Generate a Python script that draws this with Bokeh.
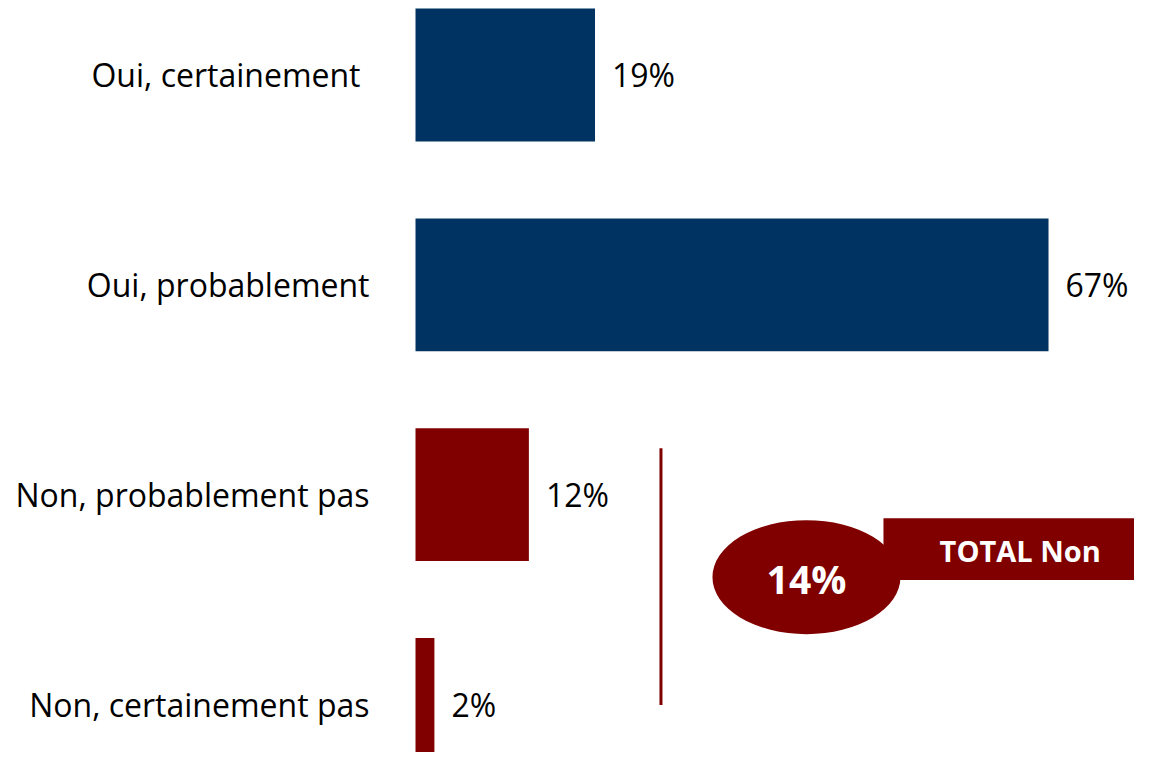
from bokeh.plotting import figure
from bokeh.models import Range1d, ColumnDataSource
from bokeh.core.properties import value
from bokeh.embed import file_html
from bokeh.resources import INLINE

categories = ["Oui, certainement", "Oui, probablement", "Non, probablement pas", "Non, certainement pas"]
values = [19, 67, 12, 2]
colors = ["#013362", "#013362", "#800000", "#800000"]
value_labels = ["19%", "67%", "12%", "2%"]
total_label = "TOTAL Non"
total_value = "14%"

FONT = "Open Sans"
n = len(categories)
ypos = [n - 1 - i for i in range(n)]

src = ColumnDataSource(dict(cat=categories, val=values, col=colors, y=ypos,
                            lab=value_labels, zero=[0] * n,
                            loff=[-55, -46, -46, -46]))

p = figure(width=1134, height=752, output_backend="svg", toolbar_location=None,
           x_range=Range1d(-43.925, 76.10), y_range=Range1d(-0.2286, 3.3548),
           min_border=0)
p.axis.visible = False
p.grid.visible = False
p.outline_line_color = None
p.background_fill_color = "white"

p.hbar(y="y", left="zero", right="val", height=0.633, fill_color="col",
       line_color=None, source=src)

p.text(x="zero", y="y", text="cat", source=src, x_offset="loff",
       text_align="right", text_baseline="middle",
       text_font=value(FONT), text_font_size="32px", text_color="#000000")
p.text(x="val", y="y", text="lab", source=src, x_offset=17,
       text_align="left", text_baseline="middle",
       text_font=value(FONT), text_font_size="32px", text_color="#000000")

# bracket for "Non" answers
red = "#800000"
p.segment(x0=[25.98], y0=[-0.002], x1=[25.98], y1=[1.2215], line_color=red, line_width=3)

# callout
p.quad(left=[49.53], right=[80], top=[0.888], bottom=[0.593], fill_color=red, line_color=None)
p.ellipse(x=[41.38], y=[0.607], width=[188], height=[114], width_units="screen",
          height_units="screen", fill_color=red, line_color=None)
p.text(x=[64.0], y=[0.736], text=[total_label], text_align="center", text_baseline="middle",
       text_font=value(FONT), text_font_size="29px", text_font_style="bold", text_color="white")
p.text(x=[41.38], y=[0.60], text=[total_value], text_align="center", text_baseline="middle",
       text_font=value(FONT), text_font_size="39px", text_font_style="bold", text_color="white")

open("out.html", "w").write(file_html(p, INLINE))
